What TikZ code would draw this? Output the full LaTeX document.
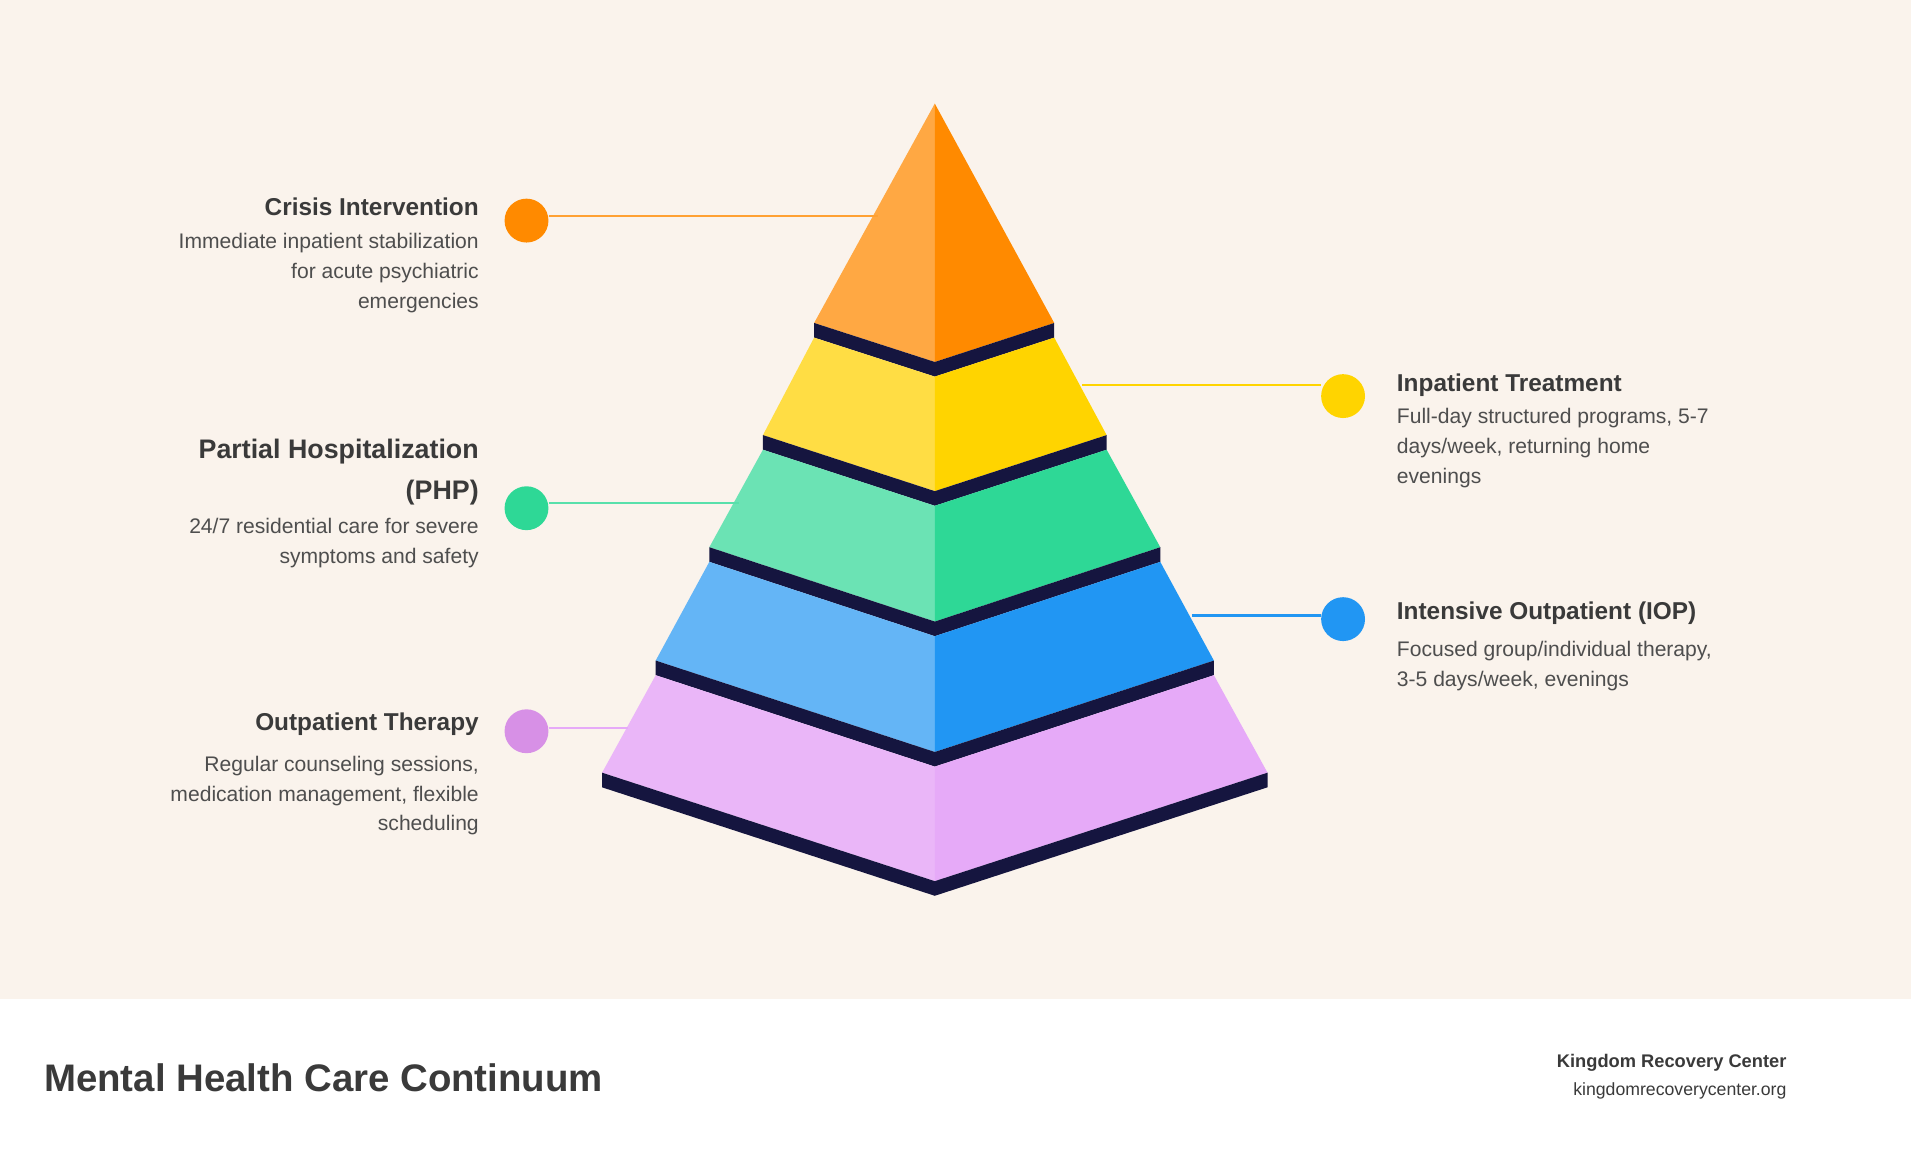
\documentclass[tikz,border=0pt]{standalone}
\usepackage{fontspec}
\setmainfont{Liberation Sans}
\definecolor{bg}{HTML}{FAF3EC}
\definecolor{band}{HTML}{15153F}
\definecolor{txt}{HTML}{3A3A3A}
\definecolor{oL}{HTML}{FFA843}\definecolor{oD}{HTML}{FF8A00}
\definecolor{yL}{HTML}{FFDD44}\definecolor{yD}{HTML}{FFD400}
\definecolor{gL}{HTML}{6BE3B4}\definecolor{gD}{HTML}{2ED896}
\definecolor{bL}{HTML}{64B5F6}\definecolor{bD}{HTML}{2196F3}
\definecolor{pL}{HTML}{EAB6F8}\definecolor{pD}{HTML}{E6AAF8}
\tikzset{
 head/.style={font=\bfseries\fontsize{20}{24}\selectfont,text=txt,inner sep=0pt},
 body/.style={font=\fontsize{17.3}{24.5}\selectfont,text=txt!90,inner sep=0pt,align=#1},
 dot/.style={circle,minimum size=36pt,inner sep=0pt},
 lead/.style={line width=1.8pt}
}
\begin{document}
\begin{tikzpicture}[x=1pt,y=-1pt]
\fill[bg] (0,0) rectangle (1568,820);
\fill[white] (0,820) rectangle (1568,952);
\useasboundingbox (0,0) rectangle (1568,952);
% orange
\fill[oL] (767,85) -- (668,265) -- (767,297) -- cycle;
\fill[oD] (767,85) -- (865,265) -- (767,297) -- cycle;
\fill[band] (668,265) -- (767,297) -- (865,265) -- (865,277) -- (767,309) -- (668,277) -- cycle;
% yellow
\fill[yL] (668,277) -- (767,309) -- (767,403) -- (626,357) -- cycle;
\fill[yD] (865,277) -- (767,309) -- (767,403) -- (908,357) -- cycle;
\fill[band] (626,357) -- (767,403) -- (908,357) -- (908,369) -- (767,415) -- (626,369) -- cycle;
% green
\fill[gL] (626,369) -- (767,415) -- (767,510) -- (582,449) -- cycle;
\fill[gD] (908,369) -- (767,415) -- (767,510) -- (952,449) -- cycle;
\fill[band] (582,449) -- (767,510) -- (952,449) -- (952,461) -- (767,522) -- (582,461) -- cycle;
% blue
\fill[bL] (582,461) -- (767,522) -- (767,617) -- (538,542) -- cycle;
\fill[bD] (952,461) -- (767,522) -- (767,617) -- (996,542) -- cycle;
\fill[band] (538,542) -- (767,617) -- (996,542) -- (996,554) -- (767,629) -- (538,554) -- cycle;
% purple
\fill[pL] (538,554) -- (767,629) -- (767,723) -- (494,634) -- cycle;
\fill[pD] (996,554) -- (767,629) -- (767,723) -- (1040,634) -- cycle;
\fill[band] (494,634) -- (767,723) -- (1040,634) -- (1040,646) -- (767,735) -- (494,646) -- cycle;
% connectors
\coordinate (e1) at (720,177); \coordinate (e2) at (888,316);
\coordinate (e3) at (606,413); \coordinate (e4) at (978,505);
\coordinate (e5) at (515,597);
\node[dot,fill=oD] (d1) at (432,181) {};
\node[dot,fill=yD] (d2) at (1102,325) {};
\node[dot,fill=gD] (d3) at (432,417) {};
\node[dot,fill=bD] (d4) at (1102,508) {};
\node[dot,fill=pD!85!violet] (d5) at (432,600) {};
\draw[lead,oD!80] (d1.east|-e1) -- (e1);
\draw[lead,yD] (e2) -- (d2.west|-e2);
\draw[lead,gD!80] (d3.east|-e3) -- (e3);
\draw[lead,bD] (e4) -- (d4.west|-e4);
\draw[lead,pD] (d5.east|-e5) -- (e5);
% texts
\node[head,anchor=east] (h1) at (393,170) {Crisis Intervention};
\node[body=right,anchor=north east] (t1) at (393,191) {Immediate inpatient stabilization\\for acute psychiatric\\emergencies};
\node[head,anchor=west] (h2) at (1146,316) {Inpatient Treatment};
\node[body=left,anchor=north west] (t2) at (1146,335) {Full-day structured programs, 5-7\\days/week, returning home\\evenings};
\node[head,anchor=north east,align=right,font=\bfseries\fontsize{22}{34}\selectfont] (h3) at (393,360) {Partial Hospitalization\\(PHP)};
\node[body=right,anchor=north east] (t3) at (393,425) {24/7 residential care for severe\\symptoms and safety};
\node[head,anchor=west] (h4) at (1146,503) {Intensive Outpatient (IOP)};
\node[body=left,anchor=north west] (t4) at (1146,526) {Focused group/individual therapy,\\3-5 days/week, evenings};
\node[head,anchor=east] (h5) at (393,594) {Outpatient Therapy};
\node[body=right,anchor=north east] (t5) at (393,620) {Regular counseling sessions,\\medication management, flexible\\scheduling};
% footer
\node[anchor=west,inner sep=0pt,text=txt,font=\bfseries\fontsize{31.5}{36}\selectfont] (title) at (36,884) {Mental Health Care Continuum};
\node[anchor=east,inner sep=0pt,text=txt,font=\bfseries\fontsize{15}{18}\selectfont] (brand) at (1466,872) {Kingdom Recovery Center};
\node[anchor=east,inner sep=0pt,text=txt,font=\fontsize{14.5}{18}\selectfont] (url) at (1466,895) {kingdomrecoverycenter.org};
\end{tikzpicture}
\end{document}
